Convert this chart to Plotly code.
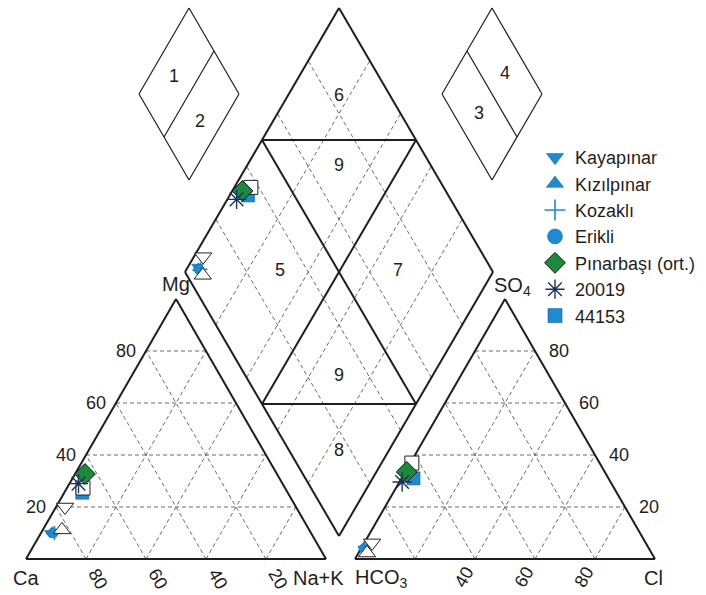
import plotly.graph_objects as go

# ---------------- sample compositions (meq %) ----------------
names = ["Kayapınar", "Kızılpınar", "Kozaklı", "Erikli", "Pınarbaşı (ort.)", "20019", "44153"]
ca   = [87.0, 86.0, 85.5, 86.0, 64.0, 68.0, 68.5]
mg   = [10.0, 10.5, 10.0, 10.0, 32.7, 29.0, 25.5]
nak  = [ 3.0,  3.5,  4.5,  4.0,  3.3,  3.0,  6.0]
hco3 = [95.0, 95.0, 94.5, 95.0, 66.0, 69.5, 65.0]
so4  = [ 4.0,  4.0,  4.5,  4.0, 33.5, 29.6, 31.0]
cl   = [ 1.0,  1.0,  1.0,  1.0,  0.5,  0.9,  4.0]

# second analyses of three sources (open symbols)
extra_names = ["Kayapınar", "Kızılpınar", "44153"]
ex_ca   = [77.0, 82.4, 67.35]
ex_mg   = [20.0, 11.2, 27.3]
ex_nak  = [ 3.0,  6.4,  5.35]
ex_hco3 = [91.2, 94.85, 62.6]
ex_so4  = [ 6.2,  2.3, 36.9]
ex_cl   = [ 2.6,  2.85, 0.5]

grid_levels = [20, 40, 60, 80]

# ---------------- Piper geometry ----------------
W, H = 706, 595
SIDE, TRI_H, BASE_Y = 300.0, 260.0, 559.0
CAT_X0, AN_X0 = 26.0, 355.0
DB, DL, DR = (339.0, 536.0), (185.0, 272.0), (493.0, 272.0)

BLUE = "#1e8ad2"
GREEN = "#1a8a3c"
INK = "#1e1e1e"
FONT = "Liberation Sans, Arial, sans-serif"


def cation_xy(c_ca, c_mg, c_na):
    return CAT_X0 + SIDE * (c_na + c_mg / 2) / 100, BASE_Y - TRI_H * c_mg / 100


def anion_xy(a_hco3, a_so4, a_cl):
    return AN_X0 + SIDE * (a_cl + a_so4 / 2) / 100, BASE_Y - TRI_H * a_so4 / 100


def diamond_xy(camg, so4cl):
    c, a = camg / 100, so4cl / 100
    return (DB[0] + c * (DL[0] - DB[0]) + a * (DR[0] - DB[0]),
            DB[1] + c * (DL[1] - DB[1]) + a * (DR[1] - DB[1]))


def segs(pairs):
    xs, ys = [], []
    for p, q in pairs:
        xs += [p[0], q[0], None]
        ys += [p[1], q[1], None]
    return xs, ys


def piper_points(c_ca, c_mg, c_na, a_hco3, a_so4, a_cl):
    xs, ys = [], []
    for i in range(len(c_ca)):
        for fx, fy in (cation_xy(c_ca[i], c_mg[i], c_na[i]),
                       anion_xy(a_hco3[i], a_so4[i], a_cl[i]),
                       diamond_xy(c_ca[i] + c_mg[i], a_so4[i] + a_cl[i])):
            xs.append(fx)
            ys.append(fy)
    return xs, ys


fig = go.Figure()

# dashed 20 % grid
dashed = []
for p in grid_levels:
    q = 100 - p
    dashed += [(cation_xy(q, p, 0), cation_xy(0, p, q)),
               (cation_xy(q, 0, p), cation_xy(0, q, p)),
               (cation_xy(p, 0, q), cation_xy(p, q, 0)),
               (anion_xy(q, p, 0), anion_xy(0, p, q)),
               (anion_xy(q, 0, p), anion_xy(0, q, p)),
               (anion_xy(p, 0, q), anion_xy(p, q, 0)),
               (diamond_xy(p, 0), diamond_xy(p, 100)),
               (diamond_xy(0, p), diamond_xy(100, p))]
gx, gy = segs(dashed)
fig.add_trace(go.Scatter(x=gx, y=gy, mode="lines", hoverinfo="skip", showlegend=False,
                         line=dict(color="#6a6a6a", width=1, dash="4px,3px")))

# outlines and classification boundaries
solid = [
    (cation_xy(100, 0, 0), cation_xy(0, 0, 100)),
    (cation_xy(0, 0, 100), cation_xy(0, 100, 0)),
    (cation_xy(0, 100, 0), cation_xy(100, 0, 0)),
    (anion_xy(100, 0, 0), anion_xy(0, 0, 100)),
    (anion_xy(0, 0, 100), anion_xy(0, 100, 0)),
    (anion_xy(0, 100, 0), anion_xy(100, 0, 0)),
    (diamond_xy(0, 0), diamond_xy(100, 0)),
    (diamond_xy(100, 0), diamond_xy(100, 100)),
    (diamond_xy(100, 100), diamond_xy(0, 100)),
    (diamond_xy(0, 100), diamond_xy(0, 0)),
    (diamond_xy(50, 0), diamond_xy(50, 100)),
    (diamond_xy(0, 50), diamond_xy(100, 50)),
    (diamond_xy(100, 50), diamond_xy(50, 100)),
    (diamond_xy(50, 0), diamond_xy(0, 50)),
]
sx, sy = segs(solid)
fig.add_trace(go.Scatter(x=sx, y=sy, mode="lines", hoverinfo="skip", showlegend=False,
                         line=dict(color=INK, width=2)))

# small key diamonds (fields 1-2 and 3-4)
def key_diamond(cx, top):
    t, l, r, b = (cx, top), (cx - 50, top + 86), (cx + 50, top + 86), (cx, top + 172)
    mid = lambda p, q: ((p[0] + q[0]) / 2, (p[1] + q[1]) / 2)
    return [(t, l), (l, b), (b, r), (r, t)], (t, l, r, b, mid)

k1, (t1, l1, r1, b1, mid) = key_diamond(189, 8)
k2, (t2, l2, r2, b2, _) = key_diamond(492, 8)
key_lines = k1 + k2 + [(mid(t1, r1), mid(l1, b1)), (mid(t2, l2), mid(r2, b2))]
kx, ky = segs(key_lines)
fig.add_trace(go.Scatter(x=kx, y=ky, mode="lines", hoverinfo="skip", showlegend=False,
                         line=dict(color=INK, width=1.2)))

# ---------------- samples ----------------
styles = {
    "Kayapınar": dict(symbol="triangle-down", color=BLUE, line=dict(color="#0f5f9a", width=0.5)),
    "Kızılpınar": dict(symbol="triangle-up", color=BLUE, line=dict(color="#0f5f9a", width=0.5)),
    "Kozaklı": dict(symbol="cross-thin-open", color=BLUE, line=dict(width=1.6)),
    "Erikli": dict(symbol="circle", color=BLUE, line=dict(color="#0f5f9a", width=0.5)),
    "Pınarbaşı (ort.)": dict(symbol="diamond", color=GREEN, line=dict(color="#111", width=1)),
    "20019": dict(symbol="asterisk-open", color="#16325e", line=dict(width=1.4)),
    "44153": dict(symbol="square", color=BLUE, line=dict(color="#0f5f9a", width=0.6)),
}
plot_size = {"Kayapınar": 10, "Kızılpınar": 10, "Kozaklı": 10, "Erikli": 10,
             "Pınarbaşı (ort.)": 16, "20019": 16, "44153": 13}
legend_size = {"Kayapınar": 15, "Kızılpınar": 15, "Kozaklı": 15, "Erikli": 15,
               "Pınarbaşı (ort.)": 16, "20019": 16, "44153": 14}


def add_sample(i):
    n = names[i]
    x, y = piper_points([ca[i]], [mg[i]], [nak[i]], [hco3[i]], [so4[i]], [cl[i]])
    fig.add_trace(go.Scatter(x=x, y=y, mode="markers", name=n, legendgroup=n, showlegend=False,
                             marker=dict(size=plot_size[n], **styles[n])))


# draw order: small blue symbols, square, open second analyses, diamond, asterisk
for i in [0, 1, 3, 2, 6]:
    add_sample(i)

open_sym = {"Kayapınar": "triangle-down", "Kızılpınar": "triangle-up", "44153": "square"}
for j, n in enumerate(extra_names):
    x, y = piper_points([ex_ca[j]], [ex_mg[j]], [ex_nak[j]], [ex_hco3[j]], [ex_so4[j]], [ex_cl[j]])
    fig.add_trace(go.Scatter(x=x, y=y, mode="markers", name=n, legendgroup=n, showlegend=False,
                             marker=dict(symbol=open_sym[n], size=15 if n != "44153" else 14,
                                         color="white", line=dict(color="#222", width=1))))

for i in [4, 5]:
    add_sample(i)

# legend key entries
for i, n in enumerate(names):
    fig.add_trace(go.Scatter(x=[None], y=[None], mode="markers", name=n, legendgroup=n,
                             legendrank=i + 1,
                             marker=dict(size=legend_size[n], **styles[n])))

# ---------------- text ----------------
ann = []


def txt(x, y, s, size=18, **kw):
    ann.append(dict(x=x, y=y, text=s, showarrow=False, font=dict(size=size, color=INK, family=FONT), **kw))


for p in grid_levels:
    # Mg scale on the left edge, SO4 scale on the right edge
    mx, my = cation_xy(100 - p, p, 0)
    txt(mx - 8, my, str(p), xanchor="right")
    sx_, sy_ = anion_xy(0, p, 100 - p)
    txt(sx_ + 12, sy_, str(p), xanchor="left")
    # Ca scale under the cation base
    bx, by = cation_xy(p, 0, 100 - p)
    txt(bx + 12, by + 20, str(p), textangle=60)
    # Cl scale under the anion base
    if p >= 40:
        ax_, ay_ = anion_xy(100 - p, 0, p)
        txt(ax_ - 11, ay_ + 18, str(p), textangle=-60)

cx0, cy0 = cation_xy(100, 0, 0)
txt(cx0, cy0 + 19, "Ca", size=20)
cx1, cy1 = cation_xy(0, 0, 100)
txt(cx1 - 8, cy1 + 19, "Na+K", size=20)
cx2, cy2 = cation_xy(0, 100, 0)
txt(cx2, cy2 - 15, "Mg", size=20)
ax0, ay0 = anion_xy(100, 0, 0)
txt(ax0 + 26, ay0 + 19, "HCO<sub>3</sub>", size=20)
ax1, ay1 = anion_xy(0, 0, 100)
txt(ax1 - 2, ay1 + 19, "Cl", size=20)
ax2, ay2 = anion_xy(0, 100, 0)
txt(ax2 + 7, ay2 - 13, "SO<sub>4</sub>", size=20)

# field numbers in the diamond
for (c_, a_), s in [((83.5, 83.5), "6"), ((70.3, 70.3), "9"), ((69.5, 31.2), "5"),
                    ((31.2, 69.5), "7"), ((30.5, 30.5), "9"), ((16.3, 16.3), "8")]:
    zx, zy = diamond_xy(c_, a_)
    txt(zx, zy, s)

# field numbers in the key diamonds
txt(174, 76, "1")
txt(200, 121, "2")
txt(505, 73, "4")
txt(479, 113, "3")

fig.update_layout(
    width=W, height=H,
    margin=dict(l=0, r=0, t=0, b=0),
    paper_bgcolor="white", plot_bgcolor="white",
    xaxis=dict(range=[0, W], visible=False, fixedrange=True),
    yaxis=dict(range=[H, 0], visible=False, fixedrange=True),
    annotations=ann,
    showlegend=True,
    legend=dict(x=535 / W, y=1 - 139 / H, xanchor="left", yanchor="top",
                bgcolor="rgba(0,0,0,0)", font=dict(size=18, color=INK, family=FONT),
                itemsizing="trace", tracegroupgap=0),
)

fig.write_html("out.html", config={"displayModeBar": False})
